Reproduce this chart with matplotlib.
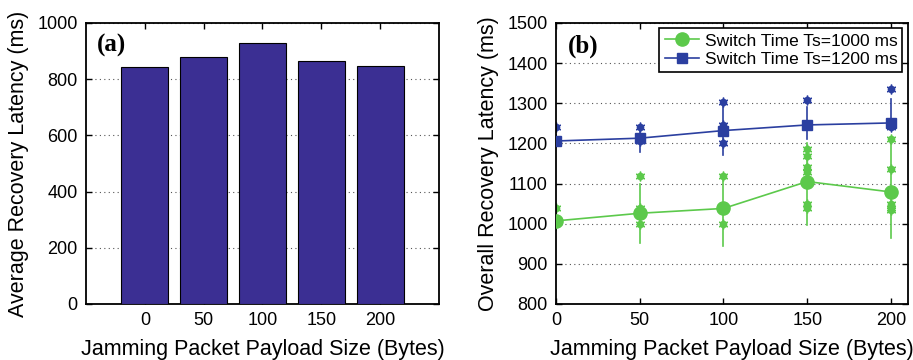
import matplotlib
matplotlib.use("Agg")
import matplotlib.pyplot as plt
import numpy as np

plt.rcParams['font.family'] = ['Liberation Sans', 'DejaVu Sans']

# Panel (a)
payload_labels = ["0", "50", "100", "150", "200"]
avg_latency = [844, 879, 929, 865, 846]

# Panel (b)
payload = [0, 50, 100, 150, 200]
mean_1000 = [1007, 1026, 1038, 1105, 1079]
low_1000 = [985, 953, 945, 996, 964]
high_1000 = [1030, 1100, 1120, 1200, 1205]
out_1000 = [[1040], [1120, 1040, 1000], [1120, 1000],
            [1185, 1168, 1140, 1130, 1050, 1040], [1210, 1135, 1050, 1040, 1035]]

mean_1200 = [1206, 1213, 1232, 1246, 1251]
low_1200 = [1192, 1178, 1170, 1210, 1235]
high_1200 = [1220, 1230, 1300, 1290, 1311]
out_1200 = [[1240], [1240, 1205], [1302, 1245, 1200], [1308], [1336, 1240]]

bar_color = '#3b2f93'
green = '#5cc94b'
blue = '#2b3fa0'

fig = plt.figure(figsize=(9.13, 3.6), dpi=100)
ax1 = fig.add_axes([0.0942, 0.1556, 0.3866, 0.7806])
ax2 = fig.add_axes([0.609, 0.1556, 0.3852, 0.7806])

# ---- (a)
xs = np.arange(1, len(avg_latency) + 1)
ax1.bar(xs, avg_latency, width=0.8, color=bar_color, edgecolor='black', linewidth=0.8, zorder=3)
ax1.set_xlim(0, 6)
ax1.set_ylim(0, 1000)
ax1.set_xticks(xs)
ax1.set_xticklabels(payload_labels)
ax1.set_yticks([0, 200, 400, 600, 800, 1000])
ax1.set_xlabel('Jamming Packet Payload Size (Bytes)', fontsize=15.5, labelpad=7)
ax1.set_ylabel('Average Recovery Latency (ms)', fontsize=15.5, labelpad=6)
ax1.yaxis.grid(True, linestyle=(0, (1, 3)), color='#555555', linewidth=0.8, zorder=0)
ax1.set_axisbelow(True)
ax1.text(0.03, 0.96, '(a)', transform=ax1.transAxes, fontsize=18, fontweight='bold',
         family='Liberation Serif', va='top', ha='left')

# ---- (b)
for means, lows, highs, outs, col, mk, ms, lab in [
        (mean_1000, low_1000, high_1000, out_1000, green, 'o', 9.5, 'Switch Time Ts=1000 ms'),
        (mean_1200, low_1200, high_1200, out_1200, blue, 's', 7.5, 'Switch Time Ts=1200 ms')]:
    for x, lo, hi, o in zip(payload, lows, highs, outs):
        ax2.plot([x, x], [lo, hi], color=col, linewidth=1.2, zorder=2)
        ax2.plot([x] * len(o), o, linestyle='none', marker='o', markersize=4.5, color=col, zorder=2)
        ax2.plot([x] * len(o), o, linestyle='none', marker=(6, 2, 0), markersize=7,
                 color=col, markeredgewidth=1.0, zorder=2)
    ax2.plot(payload, means, color=col, marker=mk, markersize=ms, linewidth=1.2, label=lab, zorder=3)

ax2.set_xlim(0, 210)
ax2.set_ylim(800, 1500)
ax2.set_xticks(payload)
ax2.set_yticks(range(800, 1501, 100))
ax2.set_xlabel('Jamming Packet Payload Size (Bytes)', fontsize=15.5, labelpad=7)
ax2.set_ylabel('Overall Recovery Latency (ms)', fontsize=15.5, labelpad=6)
ax2.yaxis.grid(True, linestyle=(0, (1, 3)), color='#555555', linewidth=0.8, zorder=0)
ax2.set_axisbelow(True)
ax2.text(0.035, 0.96, '(b)', transform=ax2.transAxes, fontsize=18, fontweight='bold',
         family='Liberation Serif', va='top', ha='left')
leg = ax2.legend(loc='upper right', fontsize=12.5, frameon=True, fancybox=False,
                 borderpad=0.3, handlelength=2.0, handletextpad=0.3, labelspacing=0.2,
                 borderaxespad=0.3)
leg.get_frame().set_edgecolor('black')
leg.get_frame().set_linewidth(1.2)
leg.get_frame().set_alpha(1)

for ax in (ax1, ax2):
    ax.tick_params(direction='in', labelsize=13, top=True, right=True, length=4, width=1, pad=6)
    for sp in ax.spines.values():
        sp.set_linewidth(1.3)

fig.savefig('out.png', dpi=100)
